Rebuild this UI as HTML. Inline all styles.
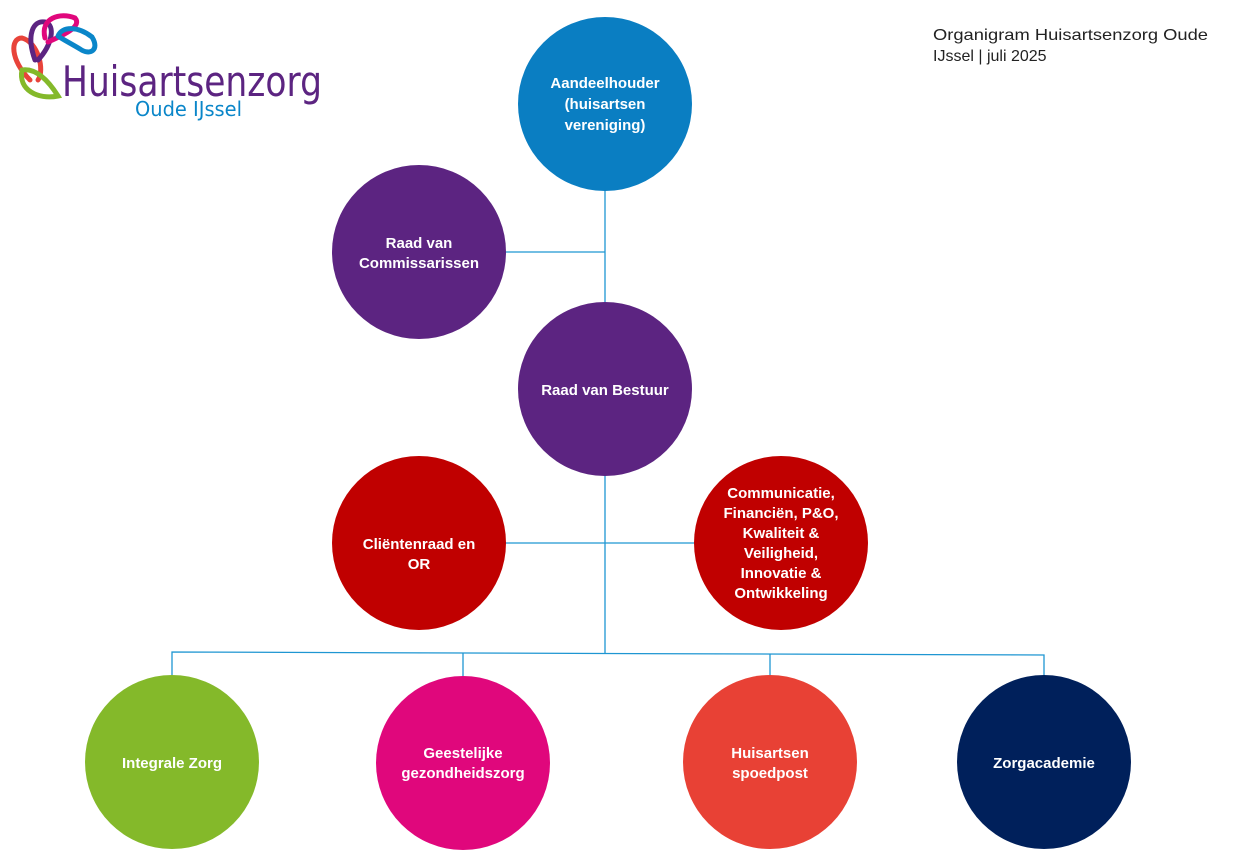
<!DOCTYPE html>
<html><head><meta charset="utf-8"><style>
html,body{margin:0;padding:0;background:#fff;}
svg{display:block}
</style></head><body>
<svg width="1250" height="867" viewBox="0 0 1250 867" xmlns="http://www.w3.org/2000/svg" font-family="Liberation Sans, sans-serif">
<!-- logo -->
<g fill="none" stroke-width="5" stroke-linecap="round">
<path d="M30,80 C10,60 10,38 22,38 C38,42 45,70 38,80" stroke="#e8433a"/>
<path d="M22,70 C18,90 38,100 58,96 C48,80 36,68 22,70" stroke="#84b92a"/>
<path d="M35,60 C26,35 33,20 45,22 C56,25 52,45 38,60" stroke="#5c2481"/>
<path d="M45,38 C40,18 60,12 75,18 C82,26 66,34 48,42" stroke="#e0077c"/>
<path d="M58,36 C62,26 78,26 92,37 C100,50 90,56 80,49 C70,43 62,39 58,36" stroke="#0a86c9"/>
</g>
<text x="62" y="96" font-size="42" fill="#5c2481" font-family="DejaVu Sans, sans-serif" textLength="260" lengthAdjust="spacingAndGlyphs">Huisartsenzorg</text>
<text x="135" y="116" font-size="20" fill="#0a86c9" font-family="DejaVu Sans, sans-serif" textLength="107" lengthAdjust="spacingAndGlyphs">Oude IJssel</text>
<text x="933" y="40" font-size="16" fill="#222" textLength="275" lengthAdjust="spacingAndGlyphs">Organigram Huisartsenzorg Oude</text>
<text x="933" y="61" font-size="16" fill="#222">IJssel  |  juli 2025</text>
<!-- connectors -->
<g stroke="#1e96d2" stroke-width="1.3" fill="none">
<line x1="605" y1="190" x2="605" y2="653"/>
<line x1="505" y1="252" x2="605" y2="252"/>
<line x1="505" y1="543" x2="695" y2="543"/>
<polyline points="172,676 172,652 1044,655 1044,676"/>
<line x1="463" y1="653" x2="463" y2="676"/>
<line x1="770" y1="654" x2="770" y2="676"/>
</g>
<!-- circles -->
<circle cx="605" cy="104" r="87" fill="#0a7ec2"/>
<circle cx="419" cy="252" r="87" fill="#5c2481"/>
<circle cx="605" cy="389" r="87" fill="#5c2481"/>
<circle cx="419" cy="543" r="87" fill="#c00000"/>
<circle cx="781" cy="543" r="87" fill="#c00000"/>
<circle cx="172" cy="762" r="87" fill="#84b92a"/>
<circle cx="463" cy="763" r="87" fill="#e0077c"/>
<circle cx="770" cy="762" r="87" fill="#e84135"/>
<circle cx="1044" cy="762" r="87" fill="#00205b"/>
<g fill="#fff" font-size="15" font-weight="bold" text-anchor="middle">
<text x="605" y="88">Aandeelhouder</text><text x="605" y="109">(huisartsen</text><text x="605" y="130">vereniging)</text>
<text x="419" y="248">Raad van</text><text x="419" y="268">Commissarissen</text>
<text x="605" y="395">Raad van Bestuur</text>
<text x="419" y="549">Cliëntenraad en</text><text x="419" y="569">OR</text>
<text x="781" y="498">Communicatie,</text><text x="781" y="518">Financiën, P&amp;O,</text><text x="781" y="538">Kwaliteit &amp;</text><text x="781" y="558">Veiligheid,</text><text x="781" y="578">Innovatie &amp;</text><text x="781" y="598">Ontwikkeling</text>
<text x="172" y="768">Integrale Zorg</text>
<text x="463" y="758">Geestelijke</text><text x="463" y="778">gezondheidszorg</text>
<text x="770" y="758">Huisartsen</text><text x="770" y="778">spoedpost</text>
<text x="1044" y="768">Zorgacademie</text>
</g>
</svg>
</body></html>
